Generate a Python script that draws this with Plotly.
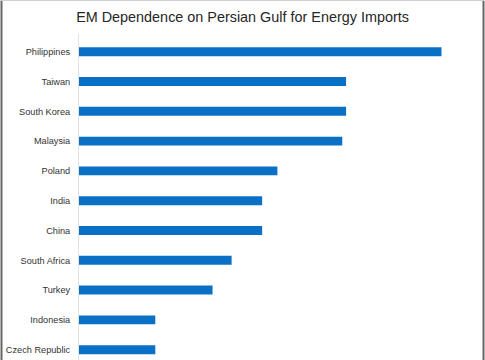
import plotly.graph_objects as go

countries = ["Philippines", "Taiwan", "South Korea", "Malaysia", "Poland", "India",
             "China", "South Africa", "Turkey", "Indonesia", "Czech Republic"]
dependence = [95, 70, 70, 69, 52, 48, 48, 40, 35, 20, 20]

W, H = 485, 360
L, R, T, B = 79, 13, 34, 0
pw, ph = W - L - R, H - T - B

def px(x):
    return (x - L) / pw

def py(y):
    return 1 - (y - T) / ph

fig = go.Figure(go.Bar(
    x=dependence, y=countries, orientation="h",
    marker=dict(color="#0a70c6", line=dict(width=0)),
    width=0.3, hoverinfo="skip",
))

fig.update_layout(
    width=W, height=H,
    margin=dict(l=L, r=R, t=T, b=B, autoexpand=False),
    paper_bgcolor="white", plot_bgcolor="white",
    showlegend=False,
    title=dict(text="EM Dependence on Persian Gulf for Energy Imports",
               x=0.5, xref="container", xanchor="center", y=1 - 17 / H, yanchor="middle",
               font=dict(family="Liberation Sans, Arial", size=14.4, color="#262626")),
    font=dict(family="Liberation Sans, Arial", size=9, color="#404040"),
    xaxis=dict(range=[0, 103], showgrid=False, zeroline=False, showticklabels=False,
               showline=False, ticks="", automargin=False),
    yaxis=dict(type="category", categoryorder="array", categoryarray=countries,
               range=[10.346, -0.594], showgrid=False, zeroline=False, automargin=False,
               showline=True, linecolor="#e3e3e3", linewidth=1,
               ticks="outside", ticklen=6, tickcolor="rgba(0,0,0,0)",
               tickfont=dict(size=9.2, color="#333333")),
    shapes=[
        dict(type="line", xref="paper", yref="paper", x0=px(1.5), x1=px(1.5), y0=py(0), y1=py(H),
             line=dict(color="#666666", width=2)),
        dict(type="line", xref="paper", yref="paper", x0=px(W - 1.5), x1=px(W - 1.5), y0=py(0), y1=py(H),
             line=dict(color="#666666", width=2)),
        dict(type="line", xref="paper", yref="paper", x0=px(0), x1=px(W), y0=py(0.5), y1=py(0.5),
             line=dict(color="#d0d0d0", width=1)),
    ],
)

fig.write_html("out.html", config={"displayModeBar": False, "staticPlot": True},
               post_script="document.body.style.margin='0';document.body.style.overflow='hidden';")
